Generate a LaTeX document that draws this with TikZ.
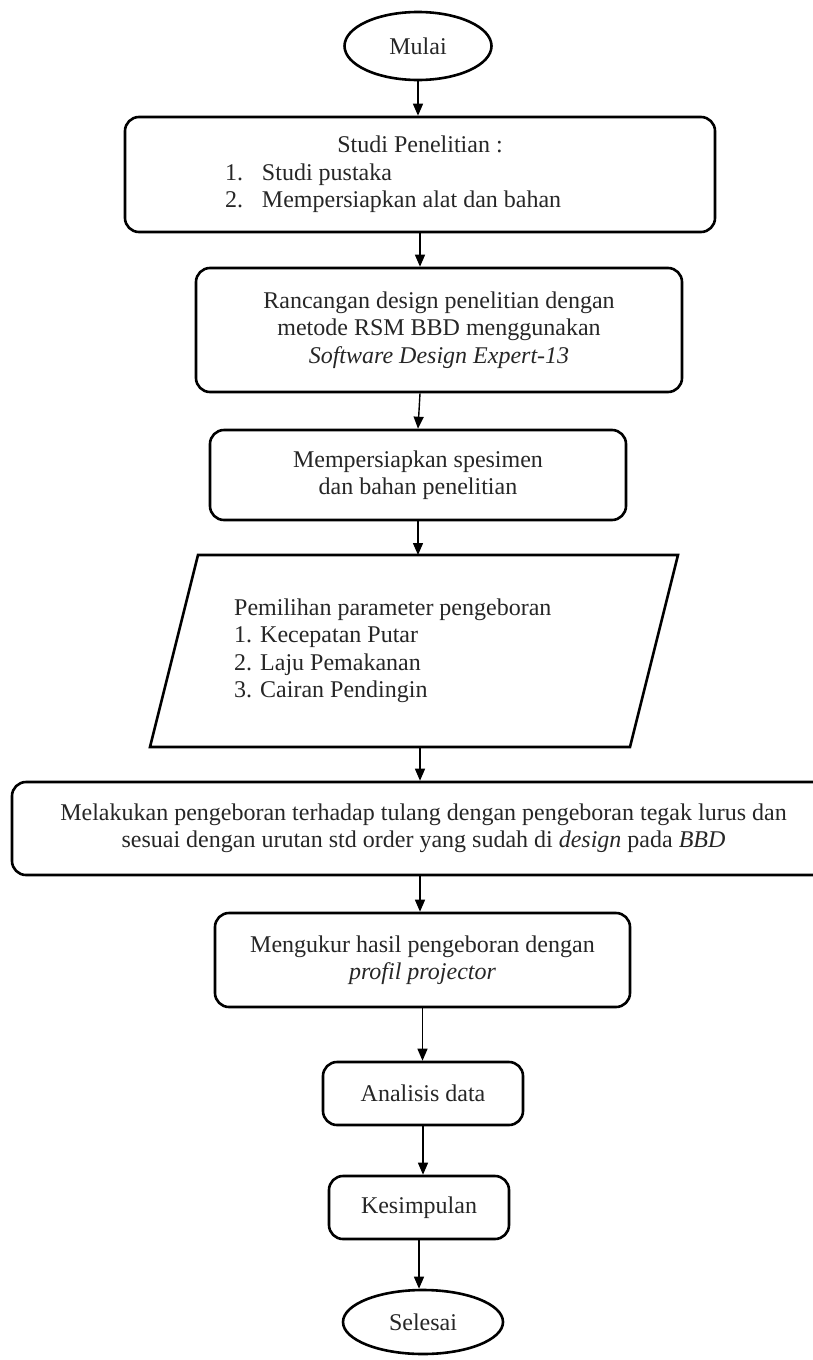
\documentclass[tikz,border=0pt]{standalone}
\usepackage{fontspec}
\setmainfont{Liberation Serif}
\usetikzlibrary{arrows.meta,shapes.geometric}
\begin{document}
\begin{tikzpicture}[x=1pt,y=-1pt,
  lbl/.style={font=\fontsize{24pt}{27.5pt}\selectfont, text=black!85},
  box/.style={lbl, draw, line width=2.6pt, rounded corners=14pt, align=center, inner sep=0pt},
  term/.style={lbl, draw, ellipse, line width=2.6pt, inner sep=0pt},
  txt/.style={lbl, align=left, inner sep=0pt},
  arr/.style={line width=1.4pt, -{Triangle[length=12pt,width=10pt]}}
]
\useasboundingbox (0,0) rectangle (813,1360);
\clip (0,0) rectangle (813,1360);

\node[term, minimum width=147pt, minimum height=68pt] (mulai) at (418,46) {Mulai};

\node[box, minimum width=590pt, minimum height=115pt] (b1) at (420,174.5)
  {\parbox{560pt}{\centering Studi Penelitian :\par\raggedright
   \hspace*{85pt}\makebox[37pt][l]{1.}Studi pustaka\par
   \hspace*{85pt}\makebox[37pt][l]{2.}Mempersiapkan alat dan bahan}};

\node[box, minimum width=486pt, minimum height=124pt] (b2) at (439,330)
  {Rancangan design penelitian dengan\\metode RSM BBD menggunakan\\\textit{Software Design Expert-13}};

\node[box, minimum width=416pt, minimum height=90pt] (b3) at (418,475)
  {Mempersiapkan spesimen\\dan bahan penelitian};

\coordinate (ptl) at (198,555);
\coordinate (ptr) at (678,555);
\coordinate (pbr) at (630,747);
\coordinate (pbl) at (150,747);
\coordinate (pin) at (418,555);
\coordinate (pout) at (420,747);
\draw[line width=2.6pt, line join=miter] (ptl) -- (ptr) -- (pbr) -- (pbl) -- cycle;
\node[txt, anchor=west] (param) at (234,651)
  {Pemilihan parameter pengeboran\\1. Kecepatan Putar\\2. Laju Pemakanan\\3. Cairan Pendingin};

\node[box, minimum width=823pt, minimum height=93pt] (b5) at (423.5,828.5)
  {Melakukan pengeboran terhadap tulang dengan pengeboran tegak lurus dan\\sesuai dengan urutan std order yang sudah di \textit{design} pada \textit{BBD}};

\node[box, minimum width=415pt, minimum height=94pt] (b6) at (422.5,960)
  {Mengukur hasil pengeboran dengan\\\textit{profil projector}};

\node[box, minimum width=200pt, minimum height=63pt] (b7) at (423,1093.5) {Analisis data};

\node[box, minimum width=180pt, minimum height=63pt] (b8) at (419,1207.5) {Kesimpulan};

\node[term, minimum width=160pt, minimum height=64pt] (selesai) at (423,1322) {Selesai};

\draw[arr] (mulai.south) -- (mulai.south |- b1.north);
\draw[arr] (b1.south) -- (b1.south |- b2.north);
\draw[arr] (b1.south |- b2.south) -- (b3.north);
\draw[arr] (b3.south) -- (pin);
\draw[arr] (pout) -- (pout |- b5.north);
\draw[arr] (pout |- b5.south) -- (pout |- b6.north);
\draw[arr] (b6.south) -- (b6.south |- b7.north);
\draw[arr] (b7.south) -- (b7.south |- b8.north);
\draw[arr] (b8.south) -- (b8.south |- selesai.north);
\end{tikzpicture}
\end{document}
